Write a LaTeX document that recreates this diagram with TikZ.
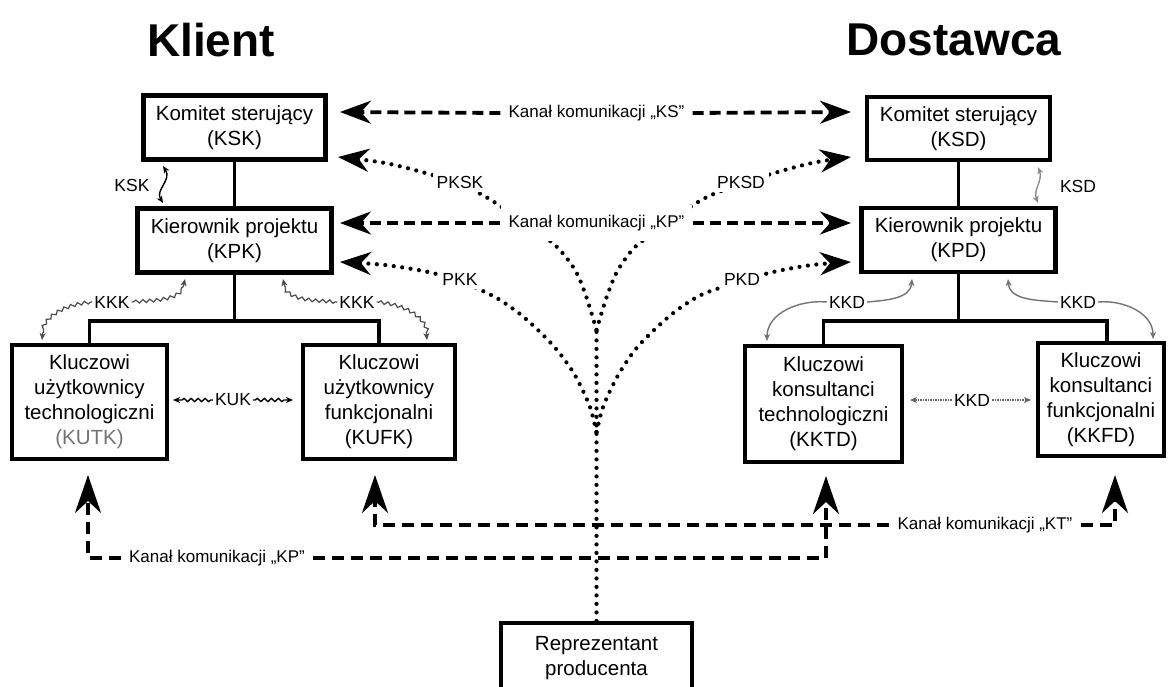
\documentclass[tikz,border=0pt]{standalone}
\usepackage{fontspec}
\setmainfont{Liberation Sans}
\usetikzlibrary{arrows.meta,decorations.pathmorphing}

\begin{document}
\begin{tikzpicture}[x=1pt,y=1pt,
  box/.style={draw, line width=4.2pt, align=center, inner sep=0pt,
    font=\fontsize{20.5}{25}\selectfont},
  tree/.style={line width=3.6pt},
  ttl/.style={font=\fontsize{46}{46}\selectfont\bfseries},
  chanlbl/.style={font=\fontsize{17}{17}\selectfont, fill=white, inner xsep=8pt, inner ysep=10pt},
  plbl/.style={font=\fontsize{17.5}{18}\selectfont, fill=white, inner sep=4pt},
  lbl/.style={font=\fontsize{17.5}{18}\selectfont, inner sep=2pt},
  chan/.style={line width=3.8pt, dash pattern=on 11pt off 6pt,
    -{Stealth[length=31pt,width=23pt,inset=10pt]}},
  dots/.style={line width=4.2pt, dash pattern=on 0pt off 8.5pt, line cap=round,
    -{Stealth[length=31pt,width=23pt,inset=10pt]}},
  trunk/.style={line width=4.2pt, dash pattern=on 0pt off 8.5pt, line cap=round},
  bchan/.style={line width=4pt, dash pattern=on 12pt off 7pt,
    -{Stealth[length=38pt,width=26pt,inset=12pt]}},
  stip/.style={{Stealth[length=7pt,width=6pt,inset=2pt]}-{Stealth[length=7pt,width=6pt,inset=2pt]}},
  tip/.style={-{Stealth[length=7pt,width=6pt,inset=2pt]}},
  wavy/.style={decorate, decoration={snake, amplitude=1.6pt, segment length=7pt,
    pre length=2pt, post length=6pt}},
]
\useasboundingbox (0,0) rectangle (1168,-687);
\clip (0,0) rectangle (1168,-687);
\fill[white] (0,0) rectangle (1168,-687);

% headings
\node[ttl] (klient) at (211,-40) {Klient};
\node[ttl] (dost) at (954,-40) {Dostawca};

% client side
\node[box, minimum width=182pt, minimum height=64pt] (ksk) at (234.5,-127.5) {Komitet sterujący\\(KSK)};
\node[box, minimum width=194pt, minimum height=64pt] (kpk) at (234.5,-240.5) {Kierownik projektu\\(KPK)};
\node[box, minimum width=155pt, minimum height=114pt] (kutk) at (89.5,-402) {Kluczowi\\użytkownicy\\technologiczni\\\textcolor{black!55}{(KUTK)}};
\node[box, minimum width=152pt, minimum height=114pt] (kufk) at (379,-402) {Kluczowi\\użytkownicy\\funkcjonalni\\(KUFK)};

% supplier side
\node[box, minimum width=183pt, minimum height=63pt] (ksd) at (958.5,-128.5) {Komitet sterujący\\(KSD)};
\node[box, minimum width=194pt, minimum height=64pt] (kpd) at (958.5,-240) {Kierownik projektu\\(KPD)};
\node[box, minimum width=157pt, minimum height=116pt] (kktd) at (823.5,-404) {Kluczowi\\konsultanci\\technologiczni\\(KKTD)};
\node[box, minimum width=126pt, minimum height=113pt] (kkfd) at (1101,-399.5) {Kluczowi\\konsultanci\\funkcjonalni\\(KKFD)};

% vendor representative
\node[box, minimum width=191pt, minimum height=70pt] (rep) at (596.5,-658) {Reprezentant\\producenta};

% hierarchy lines
\coordinate (bk) at (234.5,-321);
\coordinate (bd) at (958.5,-321);
\coordinate (kf) at (1107,-321);
\draw[tree] (ksk.south) -- (kpk.north);
\draw[tree] (kpk.south) -- (bk);
\draw[tree] (kutk.north) |- (bk) -| (kufk.north);
\draw[tree] (ksd.south) -- (kpd.north);
\draw[tree] (kpd.south) -- (bd);
\draw[tree] (kktd.north) |- (kf) -- (kf |- kkfd.north);

% dotted lines from the representative
\coordinate (tr) at (596.5,-330);
\coordinate (tm) at (596.5,-432);
\coordinate (pkskT) at (338,-157);
\coordinate (pksdT) at (851,-157);
\coordinate (pkkT) at (340,-262);
\coordinate (pkdT) at (851,-262);
\draw[trunk] (rep.north) -- (tr);
\draw[dots] plot[smooth, tension=0.55] coordinates {(tr) (586,-296) (575,-270) (557,-247) (535,-230) (512,-214) (486,-197) (460,-184) (429,-174) (385,-163) (pkskT)};
\draw[dots] plot[smooth, tension=0.55] coordinates {(tr) (607,-296) (618,-270) (635,-247) (658,-230) (680,-214) (707,-197) (741,-184) (771,-174) (812,-163) (pksdT)};
\draw[dots] plot[smooth, tension=0.55] coordinates {(tm) (591,-410) (584,-393) (573,-372) (557,-350) (540,-332) (520,-314) (500,-300) (485,-292) (460,-281) (428,-272) (385,-265) (pkkT)};
\draw[dots] plot[smooth, tension=0.55] coordinates {(tm) (602,-410) (609,-393) (620,-372) (635,-350) (652,-332) (672,-314) (692,-300) (708,-292) (742,-281) (773,-272) (812,-265) (pkdT)};

\node[plbl] (pksk) at (460,-182) {PKSK};
\node[plbl] (pksd) at (741,-182) {PKSD};
\node[plbl] (pkk) at (460,-279) {PKK};
\node[plbl] (pkd) at (742,-279) {PKD};

% steering and project channels
\coordinate (ksl) at (340,-112);
\coordinate (ksr) at (851,-112);
\coordinate (kpl) at (340,-223);
\coordinate (kpr) at (851,-223);
\node[chanlbl] (ks) at (596.5,-113) {Kanał komunikacji „KS”};
\node[chanlbl] (kp) at (596.5,-223) {Kanał komunikacji „KP”};
\draw[chan] (ks.west) -- (ksl);
\draw[chan] (ks.east) -- (ksr);
\draw[chan] (kp.west) -- (kpl);
\draw[chan] (kp.east) -- (kpr);

% bottom channels
\coordinate (a1) at (88,-475);
\coordinate (a2) at (375,-475);
\coordinate (a3) at (826,-476);
\coordinate (a4) at (1115,-475);
\node[chanlbl, inner ysep=4pt] (kpb) at (217,-558) {Kanał komunikacji „KP”};
\node[chanlbl, inner ysep=4pt] (kt) at (985,-525) {Kanał komunikacji „KT”};
\draw[bchan] (kpb.west) -| (a1);
\draw[bchan] (kpb.east) -| (a3);
\draw[bchan] (kt.west) -| (a2);
\draw[bchan] (kt.east) -| (a4);

% steering committee links
\node[lbl] (lksk) at (132,-185) {KSK};
\coordinate (ksk1) at (163,-166);
\coordinate (ksk2) at (163,-203);
\draw[stip, line width=1.4pt] (ksk1) .. controls (172,-180) and (155,-190) .. (ksk2);
\node[lbl] (lksd) at (1078,-186) {KSD};
\coordinate (ksd1) at (1038,-167);
\coordinate (ksd2) at (1038,-203);
\draw[stip, line width=1.4pt, black!45] (ksd1) .. controls (1043,-180) and (1033,-190) .. (ksd2);

% client coordination links
\node[lbl] (kkk1) at (112,-302) {KKK};
\node[lbl] (kkk2) at (357,-302) {KKK};
\coordinate (c1) at (185,-279);
\coordinate (c2) at (42,-340);
\coordinate (c3) at (283,-279);
\coordinate (c4) at (427,-340);
\draw[wavy, tip, line width=1.2pt, black!70] (kkk1.east) to[out=5,in=-95] (c1);
\draw[wavy, tip, line width=1.2pt, black!70] (kkk1.west) to[out=185,in=90] (c2);
\draw[wavy, tip, line width=1.2pt, black!70] (kkk2.west) to[out=175,in=-85] (c3);
\draw[wavy, tip, line width=1.2pt, black!70] (kkk2.east) to[out=-5,in=90] (c4);

\node[lbl] (kuk) at (233,-400) {KUK};
\coordinate (u1) at (173,-400);
\coordinate (u2) at (293,-400);
\draw[wavy, tip, line width=1.4pt] (kuk.west) -- (u1);
\draw[wavy, tip, line width=1.4pt] (kuk.east) -- (u2);

% supplier coordination links
\node[lbl] (kkd1) at (847,-302) {KKD};
\node[lbl] (kkd2) at (1078,-302) {KKD};
\coordinate (d1) at (912,-279);
\coordinate (d2) at (767,-341);
\coordinate (d3) at (1008,-279);
\coordinate (d4) at (1153,-339);
\draw[tip, line width=1.4pt, black!55] (kkd1.east) to[out=5,in=-95] (d1);
\draw[tip, line width=1.4pt, black!55] (kkd1.west) to[out=175,in=90] (d2);
\draw[tip, line width=1.4pt, black!55] (kkd2.west) to[out=175,in=-85] (d3);
\draw[tip, line width=1.4pt, black!55] (kkd2.east) to[out=5,in=90] (d4);

\node[lbl] (kkdm) at (972,-400) {KKD};
\coordinate (m1) at (910,-400);
\coordinate (m2) at (1031,-400);
\draw[tip, line width=1.8pt, black!60, dash pattern=on 1.5pt off 1pt] (kkdm.west) -- (m1);
\draw[tip, line width=1.8pt, black!60, dash pattern=on 1.5pt off 1pt] (kkdm.east) -- (m2);
\end{tikzpicture}
\end{document}
